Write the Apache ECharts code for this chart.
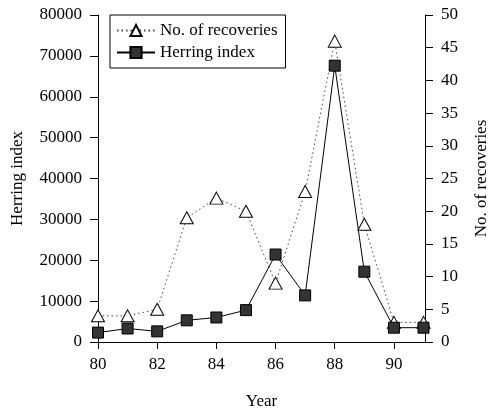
<!DOCTYPE html>
<html>
<head>
<meta charset="utf-8">
<script src="https://cdn.jsdelivr.net/npm/echarts@6/dist/echarts.min.js"></script>
<style>html,body{margin:0;padding:0;background:#fff}#c{width:497px;height:413px}</style>
</head>
<body>
<div id="c"></div>
<script>
var years = [80, 81, 82, 83, 84, 85, 86, 87, 88, 89, 90, 91];
var recoveries = [4, 4, 5, 19, 22, 20, 9, 23, 46, 18, 3, 3];
var herringIndex = [2300, 3300, 2600, 5300, 6000, 7800, 21400, 11400, 67600, 17200, 3500, 3500];
var xTicks = [80, 82, 84, 86, 88, 90];

var font = 'Liberation Serif';
function lbl(m) {
  return { fontFamily: font, fontSize: 17, color: '#000', margin: m,
    formatter: function (v) { return '{a|' + String(v) + '}'; },
    rich: { a: { fontFamily: font, fontSize: 17, color: '#000' } } };
}
var chart = echarts.init(document.getElementById('c'));
chart.setOption({
  animation: false,
  backgroundColor: '#fff',
  textStyle: { fontFamily: font },
  grid: { left: 98, right: 72, top: 15, bottom: 71, containLabel: false, outerBoundsMode: 'none' },
  legend: {
    orient: 'vertical',
    left: 110, top: 15,
    padding: [7, 8, 7, 6],
    itemGap: 5,
    itemWidth: 38, itemHeight: 14,
    borderColor: '#000', borderWidth: 1,
    textStyle: { fontFamily: font, fontSize: 17, color: '#000' },
    data: ['No. of recoveries', 'Herring index']
  },
  xAxis: {
    type: 'value', min: 80, max: 91.05,
    name: 'Year', nameLocation: 'middle', nameGap: 51,
    nameTextStyle: { fontFamily: font, fontSize: 17, color: '#000' },
    axisLine: { lineStyle: { color: '#000', width: 1 } },
    axisTick: { show: true, length: 7, lineStyle: { color: '#000' }, customValues: xTicks },
    axisLabel: Object.assign(lbl(14), { customValues: xTicks }),
    splitLine: { show: false }
  },
  yAxis: [
    {
      type: 'value', min: 0, max: 80000, interval: 10000, position: 'left',
      name: 'Herring index', nameLocation: 'middle', nameGap: 72, nameRotate: 90,
      nameTextStyle: { fontFamily: font, fontSize: 17, color: '#000' },
      axisLine: { show: true, lineStyle: { color: '#000', width: 1 } },
      axisTick: { show: true, length: 8, lineStyle: { color: '#000' } },
      axisLabel: lbl(16),
      splitLine: { show: false }
    },
    {
      type: 'value', min: 0, max: 50, interval: 5, position: 'right',
      name: 'No. of recoveries', nameLocation: 'middle', nameGap: 48, nameRotate: 90,
      nameTextStyle: { fontFamily: font, fontSize: 17, color: '#000' },
      axisLine: { show: true, lineStyle: { color: '#000', width: 1 } },
      axisTick: { show: true, length: 8, lineStyle: { color: '#000' } },
      axisLabel: lbl(16),
      splitLine: { show: false }
    }
  ],
  series: [
    {
      name: 'No. of recoveries', type: 'line', yAxisIndex: 1,
      data: years.map(function (y, i) { return [y, recoveries[i]]; }),
      symbol: 'triangle', symbolSize: [13, 12],
      itemStyle: { color: '#fff', borderColor: '#000', borderWidth: 1 },
      lineStyle: { color: '#444', width: 1, type: [1.5, 3] },
      z: 2
    },
    {
      name: 'Herring index', type: 'line', yAxisIndex: 0,
      data: years.map(function (y, i) { return [y, herringIndex[i]]; }),
      symbol: 'rect', symbolSize: 11,
      itemStyle: { color: '#333', borderColor: '#000', borderWidth: 1 },
      lineStyle: { color: '#000', width: 1 },
      z: 3
    }
  ]
});
</script>
</body>
</html>
